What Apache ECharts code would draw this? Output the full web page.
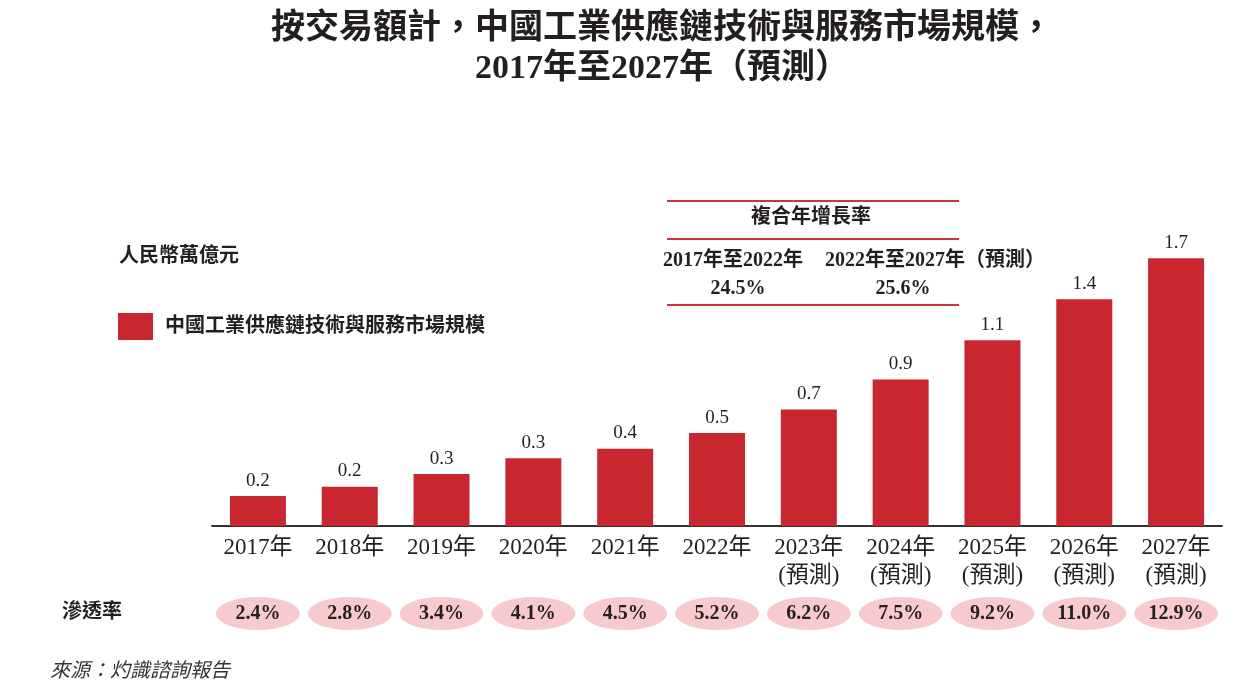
<!DOCTYPE html>
<html>
<head>
<meta charset="utf-8">
<script src="https://cdn.jsdelivr.net/npm/echarts@6/dist/echarts.min.js"></script>
<style>
html,body{margin:0;padding:0;background:#fff;}
#main{width:1253px;height:692px;}
</style>
</head>
<body>
<div id="main"></div>
<script>
var categories = ['2017年','2018年','2019年','2020年','2021年','2022年','2023年\n(預測)','2024年\n(預測)','2025年\n(預測)','2026年\n(預測)','2027年\n(預測)'];
var marketValues = [0.19, 0.25, 0.33, 0.43, 0.49, 0.59, 0.74, 0.93, 1.18, 1.44, 1.70];
var valueLabels = ['0.2','0.2','0.3','0.3','0.4','0.5','0.7','0.9','1.1','1.4','1.7'];
var penetration = ['2.4%','2.8%','3.4%','4.1%','4.5%','5.2%','6.2%','7.5%','9.2%','11.0%','12.9%'];
var cagrPeriods = ['2017年至2022年','2022年至2027年（預測）'];
var cagrValues = ['24.5%','25.6%'];

var FONT = '"Liberation Serif", "Noto Sans CJK TC", serif';
var chart = echarts.init(document.getElementById('main'));

function txt(text, x, y, size, opts) {
  opts = opts || {};
  return {
    type: 'text', x: x, y: y, silent: true,
    style: {
      text: text, fill: opts.fill || '#231f20',
      fontSize: size, fontFamily: FONT,
      fontWeight: opts.weight || 'normal',
      fontStyle: opts.style || 'normal',
      textAlign: opts.align || 'left', textVerticalAlign: 'middle',
      lineHeight: opts.lineHeight
    }
  };
}
function hline(x1, x2, y) {
  return { type: 'line', silent: true,
    shape: { x1: x1, y1: y, x2: x2, y2: y },
    style: { stroke: '#c9373b', lineWidth: 2 } };
}

var option = {
  backgroundColor: '#fff',
  animation: false,
  legend: {
    left: 118, top: 313, padding: 0,
    itemWidth: 35, itemHeight: 27,
    icon: 'rect',
    textStyle: { fontSize: 20, fontWeight: 'bold', fontFamily: FONT, color: '#231f20', padding: [0,0,0,7] },
    data: ['中國工業供應鏈技術與服務市場規模']
  },
  grid: [
    { left: 212, width: 1010, top: 211, height: 315 },
    { left: 212, width: 1010, top: 597, height: 33 }
  ],
  xAxis: [
    { type: 'category', gridIndex: 0, data: categories,
      axisLine: { show: true, lineStyle: { color: '#333', width: 2 } },
      axisTick: { show: false },
      axisLabel: { interval: 0, margin: 8, fontSize: 23, lineHeight: 28, color: '#231f20', fontFamily: FONT }
    },
    { type: 'category', gridIndex: 1, data: categories, show: false }
  ],
  yAxis: [
    { type: 'value', gridIndex: 0, min: 0, max: 2.0, show: false, splitLine: { show: false } },
    { type: 'value', gridIndex: 1, min: 0, max: 1, show: false, splitLine: { show: false } }
  ],
  series: [
    { name: '中國工業供應鏈技術與服務市場規模', type: 'bar',
      xAxisIndex: 0, yAxisIndex: 0,
      data: marketValues, barWidth: 56,
      itemStyle: { color: '#c9272f' },
      label: { show: true, position: 'top', distance: 6, fontSize: 19, color: '#231f20', fontFamily: FONT,
        formatter: function (p) { return valueLabels[p.dataIndex]; } }
    },
    { name: '滲透率', type: 'scatter',
      xAxisIndex: 1, yAxisIndex: 1,
      data: penetration.map(function () { return 0.5; }),
      symbol: 'circle', symbolSize: [84, 33],
      itemStyle: { color: '#f7cbce', opacity: 1 },
      label: { show: true, position: 'inside', fontSize: 20, fontWeight: 'bold', color: '#231f20', fontFamily: FONT,
        formatter: function (p) { return penetration[p.dataIndex]; } }
    }
  ],
  graphic: [
    txt('按交易額計，中國工業供應鏈技術與服務市場規模，\n2017年至2027年（預測）', 662, 49, 34, { weight: 'bold', align: 'center', lineHeight: 40 }),
    txt('人民幣萬億元', 119, 257, 20, { weight: 'bold' }),
    hline(667, 959, 201),
    hline(667, 959, 239),
    hline(667, 959, 305),
    txt('複合年增長率', 811, 218, 20, { weight: 'bold', align: 'center' }),
    txt(cagrPeriods[0], 663, 261, 20, { weight: 'bold' }),
    txt(cagrPeriods[1], 825, 261, 20, { weight: 'bold' }),
    txt(cagrValues[0], 738, 289, 20, { weight: 'bold', align: 'center' }),
    txt(cagrValues[1], 903, 289, 20, { weight: 'bold', align: 'center' }),
    txt('滲透率', 62, 613, 20, { weight: 'bold' }),
    txt('來源：灼識諮詢報告', 50, 672, 20, { style: 'italic', fill: '#333' })
  ]
};
chart.setOption(option);
</script>
</body>
</html>
